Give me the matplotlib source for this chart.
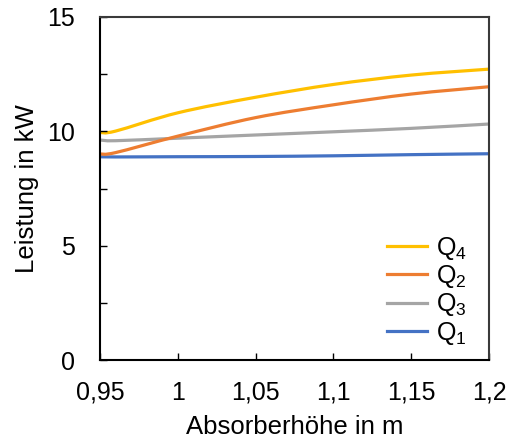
import matplotlib
matplotlib.use("Agg")
import matplotlib.pyplot as plt
from matplotlib.path import Path
from matplotlib.patches import PathPatch
from matplotlib.lines import Line2D
from matplotlib.ticker import MultipleLocator, FuncFormatter

plt.rcParams['font.family'] = ['Liberation Sans', 'DejaVu Sans']
plt.rcParams['mathtext.fontset'] = 'custom'
plt.rcParams['mathtext.rm'] = 'Liberation Sans'
plt.rcParams['mathtext.it'] = 'Liberation Sans'

# Absorber height (m) and power of each heat flow (kW)
height = [0.95, 0.96, 1.00, 1.05, 1.10, 1.15, 1.20]
q4 = [9.95, 10.01, 10.81, 11.49, 12.05, 12.46, 12.72]
q2 = [9.01, 9.07, 9.79, 10.60, 11.16, 11.63, 11.95]
q3 = [9.62, 9.59, 9.70, 9.84, 9.98, 10.13, 10.32]
q1 = [8.89, 8.88, 8.89, 8.90, 8.93, 8.98, 9.02]

series = [
    (q4, '#FFC000', r'Q$_4$'),
    (q2, '#ED7D31', r'Q$_2$'),
    (q3, '#A5A5A5', r'Q$_3$'),
    (q1, '#4472C4', r'Q$_1$'),
]


def smooth_path(xs, ys):
    """Cubic Bezier path through the points (spreadsheet-style smoothed line)."""
    n = len(xs)
    verts = [(xs[0], ys[0])]
    codes = [Path.MOVETO]
    for i in range(n - 1):
        x0, y0 = xs[max(i - 1, 0)], ys[max(i - 1, 0)]
        x1, y1 = xs[i], ys[i]
        x2, y2 = xs[i + 1], ys[i + 1]
        x3, y3 = xs[min(i + 2, n - 1)], ys[min(i + 2, n - 1)]
        c1 = (x1 + (x2 - x0) / 6, y1 + (y2 - y0) / 6)
        c2 = (x2 - (x3 - x1) / 6, y2 - (y3 - y1) / 6)
        verts += [c1, c2, (x2, y2)]
        codes += [Path.CURVE4] * 3
    return Path(verts, codes)


fig = plt.figure(figsize=(5.13, 4.43), dpi=100)
ax = fig.add_axes([100 / 513, 83 / 443, 389 / 513, 343 / 443])

handles = []
for ys, color, label in reversed(series):
    patch = PathPatch(smooth_path(height, ys), facecolor='none', edgecolor=color,
                      lw=2.3, capstyle='round', joinstyle='round')
    ax.add_patch(patch)
for ys, color, label in series:
    handles.append(Line2D([], [], color=color, lw=2.3, label=label))

ax.set_xlim(0.95, 1.2)
ax.set_ylim(0, 15)

ax.xaxis.set_major_locator(MultipleLocator(0.05))
ax.yaxis.set_major_locator(MultipleLocator(5))
ax.yaxis.set_minor_locator(MultipleLocator(2.5))


def comma(v, pos):
    s = f'{v:.2f}'.rstrip('0').rstrip('.')
    return s.replace('.', ',')


ax.xaxis.set_major_formatter(FuncFormatter(comma))
ax.yaxis.set_major_formatter(FuncFormatter(lambda v, p: f'{v:g}'))

ax.tick_params(axis='both', which='both', direction='in', labelsize=18,
               color='black', width=1.0)
ax.tick_params(axis='x', which='major', length=5, pad=15)
ax.tick_params(axis='y', which='major', length=5, pad=18)
ax.tick_params(axis='y', which='minor', length=5)

for side in ['left', 'bottom', 'top', 'right']:
    ax.spines[side].set_linewidth(1.5)
ax.spines['left'].set_color('black')
ax.spines['bottom'].set_color('black')
ax.spines['top'].set_color('#3a3a3a')
ax.spines['right'].set_color('#3a3a3a')

ax.set_xlabel('Absorberhöhe in m', fontsize=18.5, labelpad=7)
ax.set_ylabel('Leistung in kW', fontsize=18.5, labelpad=6)

ax.legend(handles=handles, loc='upper left', bbox_to_anchor=(0.738, 0.365),
          frameon=False, fontsize=18, borderpad=0, borderaxespad=0,
          handlelength=1.6, handletextpad=0.35, labelspacing=0.05)

fig.savefig('out.png', dpi=100)
